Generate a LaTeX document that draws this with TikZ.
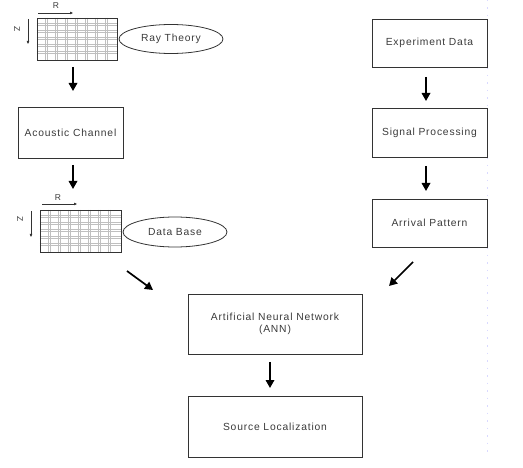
\documentclass[tikz,border=0pt]{standalone}
\usepackage{fontspec}
\setmainfont{Liberation Sans}[LetterSpace=8]
\usetikzlibrary{arrows.meta,shapes.geometric}
\definecolor{ink}{HTML}{333333}
\definecolor{txt}{HTML}{3A3A3A}
\tikzset{
  box/.style={draw=ink, line width=0.9pt, rectangle, align=center, text=txt, font=\fontsize{10.3}{11.5}\selectfont},
  oval/.style={draw=ink, line width=0.8pt, ellipse, text=txt, font=\fontsize{10.3}{11.5}\selectfont, inner sep=0pt},
  gridbox/.style={draw=ink, line width=0.9pt, rectangle, inner sep=0pt},
  gridline/.style={draw=gray!50, line width=0.35pt},
  bigarrow/.style={draw=black, line width=1.7pt, -{Triangle[length=8pt,width=8.5pt]}},
  smallarrow/.style={draw=ink, line width=0.6pt, -{Triangle[length=3pt,width=2.5pt]}},
  axislabel/.style={text=txt, font=\fontsize{8.5}{9}\selectfont, inner sep=0pt},
}
\begin{document}
\begin{tikzpicture}[x=1pt,y=-1pt]
\useasboundingbox (0,0) rectangle (523,468);
% faint scan line
\draw[draw=blue!15, line width=0.5pt, dash pattern=on 1.5pt off 6pt] (487,0) -- (487,455);

% grid 1
\node[gridbox, minimum width=80pt, minimum height=42pt] (g1) at (77,39) {};
\foreach \i in {1,...,7} {
  \draw[gridline] ([xshift=\i*10pt-1pt]g1.north west) -- ([xshift=\i*10pt-1pt]g1.south west);
  \draw[gridline] ([xshift=\i*10pt+1pt]g1.north west) -- ([xshift=\i*10pt+1pt]g1.south west);
}
\foreach \j in {1,...,5} {
  \draw[gridline] ([yshift=-\j*7pt+1pt]g1.north west) -- ([yshift=-\j*7pt+1pt]g1.north east);
  \draw[gridline] ([yshift=-\j*7pt-1pt]g1.north west) -- ([yshift=-\j*7pt-1pt]g1.north east);
}
\node[gridbox, minimum width=80pt, minimum height=42pt] at (77,39) {};
\coordinate (r1s) at (38,13); \coordinate (r1e) at (73,13);
\draw[smallarrow] (r1s) -- (r1e);
\node[axislabel] (r1) at (56,6) {R};
\coordinate (z1s) at (28,19); \coordinate (z1e) at (28,44);
\draw[smallarrow] (z1s) -- (z1e);
\node[axislabel, rotate=-90] (z1) at (17,29) {Z};
\node[oval, minimum width=104pt, minimum height=29pt] (ray) at (171,39) {Ray Theory};

% arrow 1
\coordinate (a1s) at (73,67); \coordinate (a1e) at (73,91);
\draw[bigarrow] (a1s) -- (a1e);

\node[box, minimum width=105pt, minimum height=51pt] (ac) at (70.5,132.5) {Acoustic Channel};

\coordinate (a2s) at (73,165); \coordinate (a2e) at (73,189);
\draw[bigarrow] (a2s) -- (a2e);

% grid 2
\node[gridbox, minimum width=81pt, minimum height=42pt] (g2) at (80.5,231) {};
\foreach \i in {1,...,7} {
  \draw[gridline] ([xshift=\i*10pt-1pt]g2.north west) -- ([xshift=\i*10pt-1pt]g2.south west);
  \draw[gridline] ([xshift=\i*10pt+1pt]g2.north west) -- ([xshift=\i*10pt+1pt]g2.south west);
}
\foreach \j in {1,...,5} {
  \draw[gridline] ([yshift=-\j*7pt+1pt]g2.north west) -- ([yshift=-\j*7pt+1pt]g2.north east);
  \draw[gridline] ([yshift=-\j*7pt-1pt]g2.north west) -- ([yshift=-\j*7pt-1pt]g2.north east);
}
\node[gridbox, minimum width=81pt, minimum height=42pt] at (80.5,231) {};
\coordinate (r2s) at (42,204); \coordinate (r2e) at (77,204);
\draw[smallarrow] (r2s) -- (r2e);
\node[axislabel] (r2) at (58,198) {R};
\coordinate (z2s) at (31,211); \coordinate (z2e) at (31,237);
\draw[smallarrow] (z2s) -- (z2e);
\node[axislabel, rotate=-90] (z2) at (20,219) {Z};
\node[oval, minimum width=104pt, minimum height=30pt] (db) at (175,232) {Data Base};

% right column
\node[box, minimum width=115pt, minimum height=48pt] (ed) at (429.5,43) {Experiment Data};
\coordinate (a3s) at (426,77); \coordinate (a3e) at (426,101);
\draw[bigarrow] (a3s) -- (a3e);
\node[box, minimum width=115pt, minimum height=49pt] (sp) at (429.5,132.5) {Signal Processing};
\coordinate (a4s) at (426,166); \coordinate (a4e) at (426,191);
\draw[bigarrow] (a4s) -- (a4e);
\node[box, minimum width=115pt, minimum height=48pt] (ap) at (429.5,223) {Arrival Pattern};

% diagonal arrows
\coordinate (d1s) at (127,271); \coordinate (d1e) at (153,290);
\draw[bigarrow] (d1s) -- (d1e);
\coordinate (d2s) at (413,262); \coordinate (d2e) at (389,286);
\draw[bigarrow] (d2s) -- (d2e);

% bottom
\node[box, minimum width=174pt, minimum height=60pt] (ann) at (275,324) {Artificial Neural Network\\(ANN)};
\coordinate (a5s) at (270,362); \coordinate (a5e) at (270,388);
\draw[bigarrow] (a5s) -- (a5e);
\node[box, minimum width=174pt, minimum height=61pt] (sl) at (275,426.5) {Source Localization};
\end{tikzpicture}
\end{document}
